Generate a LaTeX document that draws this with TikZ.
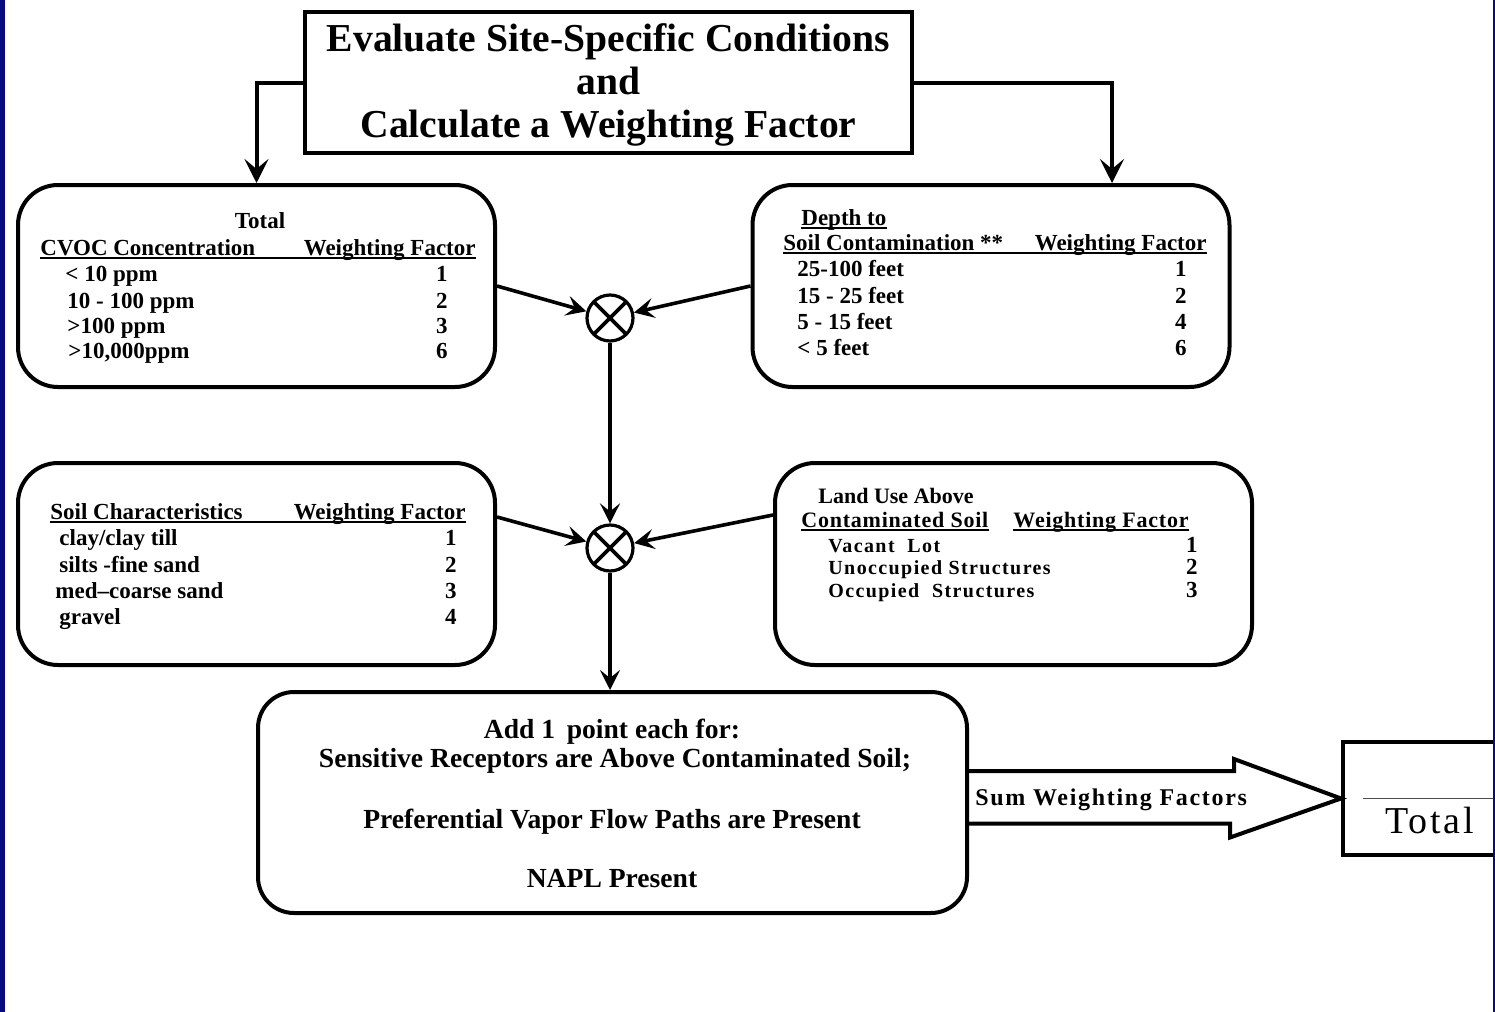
\documentclass[tikz,border=0pt]{standalone}
\usepackage{fontspec}
\setmainfont{Liberation Serif}
\usepackage{tikz}
\usetikzlibrary{arrows.meta,positioning}

\definecolor{slideblue}{RGB}{10,10,128}
\newcommand{\cellfont}{\fontsize{11.5}{13}\selectfont\bfseries}
\newcommand{\landfont}{\fontsize{10}{12}\selectfont\bfseries\addfontfeature{LetterSpace=7}}

\begin{document}
\begin{tikzpicture}[x=0.5pt,y=-0.5pt,
    box/.style={draw, line width=2pt, rounded corners=20pt, minimum width=238.5pt, minimum height=101pt, inner sep=0pt},
    cell/.style={inner sep=0pt, anchor=base west, font=\cellfont},
    num/.style={inner sep=0pt, anchor=base east, font=\cellfont},
    uline/.style={line width=1.1pt},
    arr/.style={-{Stealth[length=12pt,width=12pt,inset=5pt]}, line width=2pt},
    arrs/.style={-{Stealth[length=10pt,width=10pt,inset=4pt]}, line width=1.8pt},
    mult/.style={circle, draw, line width=1.6pt, minimum size=23pt, inner sep=0pt,
        path picture={\draw[line width=1.8pt] (path picture bounding box.south west) -- (path picture bounding box.north east)
            (path picture bounding box.north west) -- (path picture bounding box.south east);}}
]
    \useasboundingbox (0,0) rectangle (1495,1012);
    \fill[white] (0,0) rectangle (1495,1012);

    % Title
    \node[draw, line width=2pt, minimum width=303.5pt, minimum height=70.5pt] (title) at (608.5,82.5) {};
    \node[inner sep=0pt, align=center, font=\fontsize{19.8}{21.4}\selectfont\bfseries, anchor=base] (titletxt) at (608.5,137)
        {Evaluate Site-Specific Conditions\\and\\Calculate a Weighting Factor};

    % Factor boxes
    \node[box] (cvoc) at (256.5,286) {};
    \node[box] (depth) at (991,286) {};
    \node[box] (soil) at (256.5,564) {};
    \node[box] (land) at (1013.5,564) {};
    \node[box, minimum width=354.5pt, minimum height=110.5pt, rounded corners=18pt] (napl) at (612.5,802.5) {};

    % CVOC concentration
    \node[cell, anchor=base] (cvtot) at (260,228) {Total};
    \node[cell] (cvh1) at (40,255) {CVOC Concentration};
    \node[num] (cvh2) at (476,255) {Weighting Factor};
    \draw[uline] ([yshift=-1.6pt]cvh1.base west) -- ([yshift=-1.6pt]cvh2.base east);
    \foreach \lbl/\wf/\xx/\yy [count=\i] in {{< 10 ppm}/1/65/281, {10 - 100 ppm}/2/67/308, {>100 ppm}/3/67/333, {>10,000ppm}/6/68/358}
        \node[cell] (cv\i) at (\xx,\yy) {\lbl} node[num] (cvn\i) at (448,\yy) {\wf};

    % Depth to soil contamination
    \node[cell] (dph0) at (801,225) {Depth to};
    \draw[uline] ([yshift=-1.6pt]dph0.base west) -- ([yshift=-1.6pt]dph0.base east);
    \node[cell] (dph1) at (783,250) {Soil Contamination **};
    \node[num] (dph2) at (1207,250) {Weighting Factor};
    \draw[uline] ([yshift=-1.6pt]dph1.base west) -- ([yshift=-1.6pt]dph2.base east);
    \foreach \lbl/\wf/\yy [count=\i] in {25-100 feet/1/276, 15 - 25 feet/2/303, 5 - 15 feet/4/329, < 5 feet/6/355}
        \node[cell] (dp\i) at (797,\yy) {\lbl} node[num] (dpn\i) at (1187,\yy) {\wf};

    % Soil characteristics
    \node[cell] (soh1) at (50,519) {Soil Characteristics};
    \node[num] (soh2) at (466,519) {Weighting Factor};
    \draw[uline] ([yshift=-1.6pt]soh1.base west) -- ([yshift=-1.6pt]soh2.base east);
    \foreach \lbl/\wf/\xx/\yy [count=\i] in {{clay/clay till}/1/59/545, {silts -fine sand}/2/59/572, {med–coarse sand}/3/55/598, {gravel}/4/59/624}
        \node[cell] (so\i) at (\xx,\yy) {\lbl} node[num] (son\i) at (457,\yy) {\wf};

    % Land use
    \node[cell, font=\fontsize{11}{13}\selectfont\bfseries] (lah0) at (818,503) {Land Use Above};
    \node[cell, font=\fontsize{11}{13}\selectfont\bfseries\addfontfeature{LetterSpace=3.5}] (lah1) at (801,527) {Contaminated Soil};
    \node[num, font=\fontsize{11}{13}\selectfont\bfseries\addfontfeature{LetterSpace=3.5}] (lah2) at (1189,527) {Weighting Factor};
    \draw[uline] ([yshift=-1.6pt]lah1.base west) -- ([yshift=-1.6pt]lah1.base east);
    \draw[uline] ([yshift=-1.6pt]lah2.base west) -- ([yshift=-1.6pt]lah2.base east);
    \foreach \lbl/\wf/\yy [count=\i] in {Vacant~ Lot/1/552, Unoccupied Structures/2/574, Occupied~ Structures/3/597}
        \node[cell, font=\landfont] (la\i) at (828,\yy) {\lbl} node[num] (lan\i) at (1198,\yy) {\wf};

    % Extra points
    \node[inner sep=0pt, font=\fontsize{13.8}{15}\selectfont\bfseries, anchor=base] (nap1) at (612,738)
        {Add 1\, point each for:};
    \node[inner sep=0pt, font=\fontsize{13.8}{15}\selectfont\bfseries, anchor=base] (nap2) at (615,767)
        {Sensitive Receptors are Above Contaminated Soil;};
    \node[inner sep=0pt, font=\fontsize{13.8}{15}\selectfont\bfseries, anchor=base] (nap3) at (612,828)
        {Preferential Vapor Flow Paths are Present};
    \node[inner sep=0pt, font=\fontsize{13.8}{15}\selectfont\bfseries, anchor=base] (nap4) at (612,887)
        {NAPL Present};

    % Multipliers
    \node[mult] (ot1) at (610,318) {};
    \node[mult] (ot2) at (610,548) {};

    % Connectors
    \draw[arr] (title.west) -| (cvoc.north);
    \draw[arr] (title.east) -| ([xshift=60.5pt]depth.north);
    \draw[arrs] (cvoc.east) -- (ot1);
    \draw[arrs] (depth.west) -- (ot1);
    \draw[arrs] (ot1) -- (ot2);
    \draw[arrs] ([yshift=23.5pt]soil.east) -- (ot2);
    \draw[arrs] ([yshift=24.5pt]land.west) -- (ot2);
    \draw[arrs] (ot2) -- (ot2 |- napl.north);

    % Total
    \node[draw, line width=2pt, minimum width=88.5pt, minimum height=56.5pt, inner sep=0pt] (tot) at (1431.5,798.5) {};
    \draw[line width=0.7pt, black!70] ([xshift=11pt]tot.west) -- (tot.east);
    \node[inner sep=0pt, anchor=base west, font=\fontsize{19}{21}\selectfont\addfontfeature{LetterSpace=7}] (totlbl) at (1385,833) {Total};

    % Sum arrow
    \coordinate (sumtail) at ([yshift=2.75pt]napl.east);
    \draw[line width=2pt, line join=miter] (sumtail) ++(0,-26) -- ++(265,0) -- ++(0,-12) -- (tot.west)
        -- ++(-111,39) -- ++(0,-14) -- ++(-265,0);
    \node[inner sep=0pt, anchor=base west, font=\fontsize{12}{14}\selectfont\bfseries\addfontfeature{LetterSpace=7}] (sumlbl) at (975,805)
        {Sum Weighting Factors};

    % Slide edges
    \fill[slideblue] (0,0) rectangle (5,1012);
    \fill[slideblue] (1493,0) rectangle (1495,1012);
\end{tikzpicture}
\end{document}
